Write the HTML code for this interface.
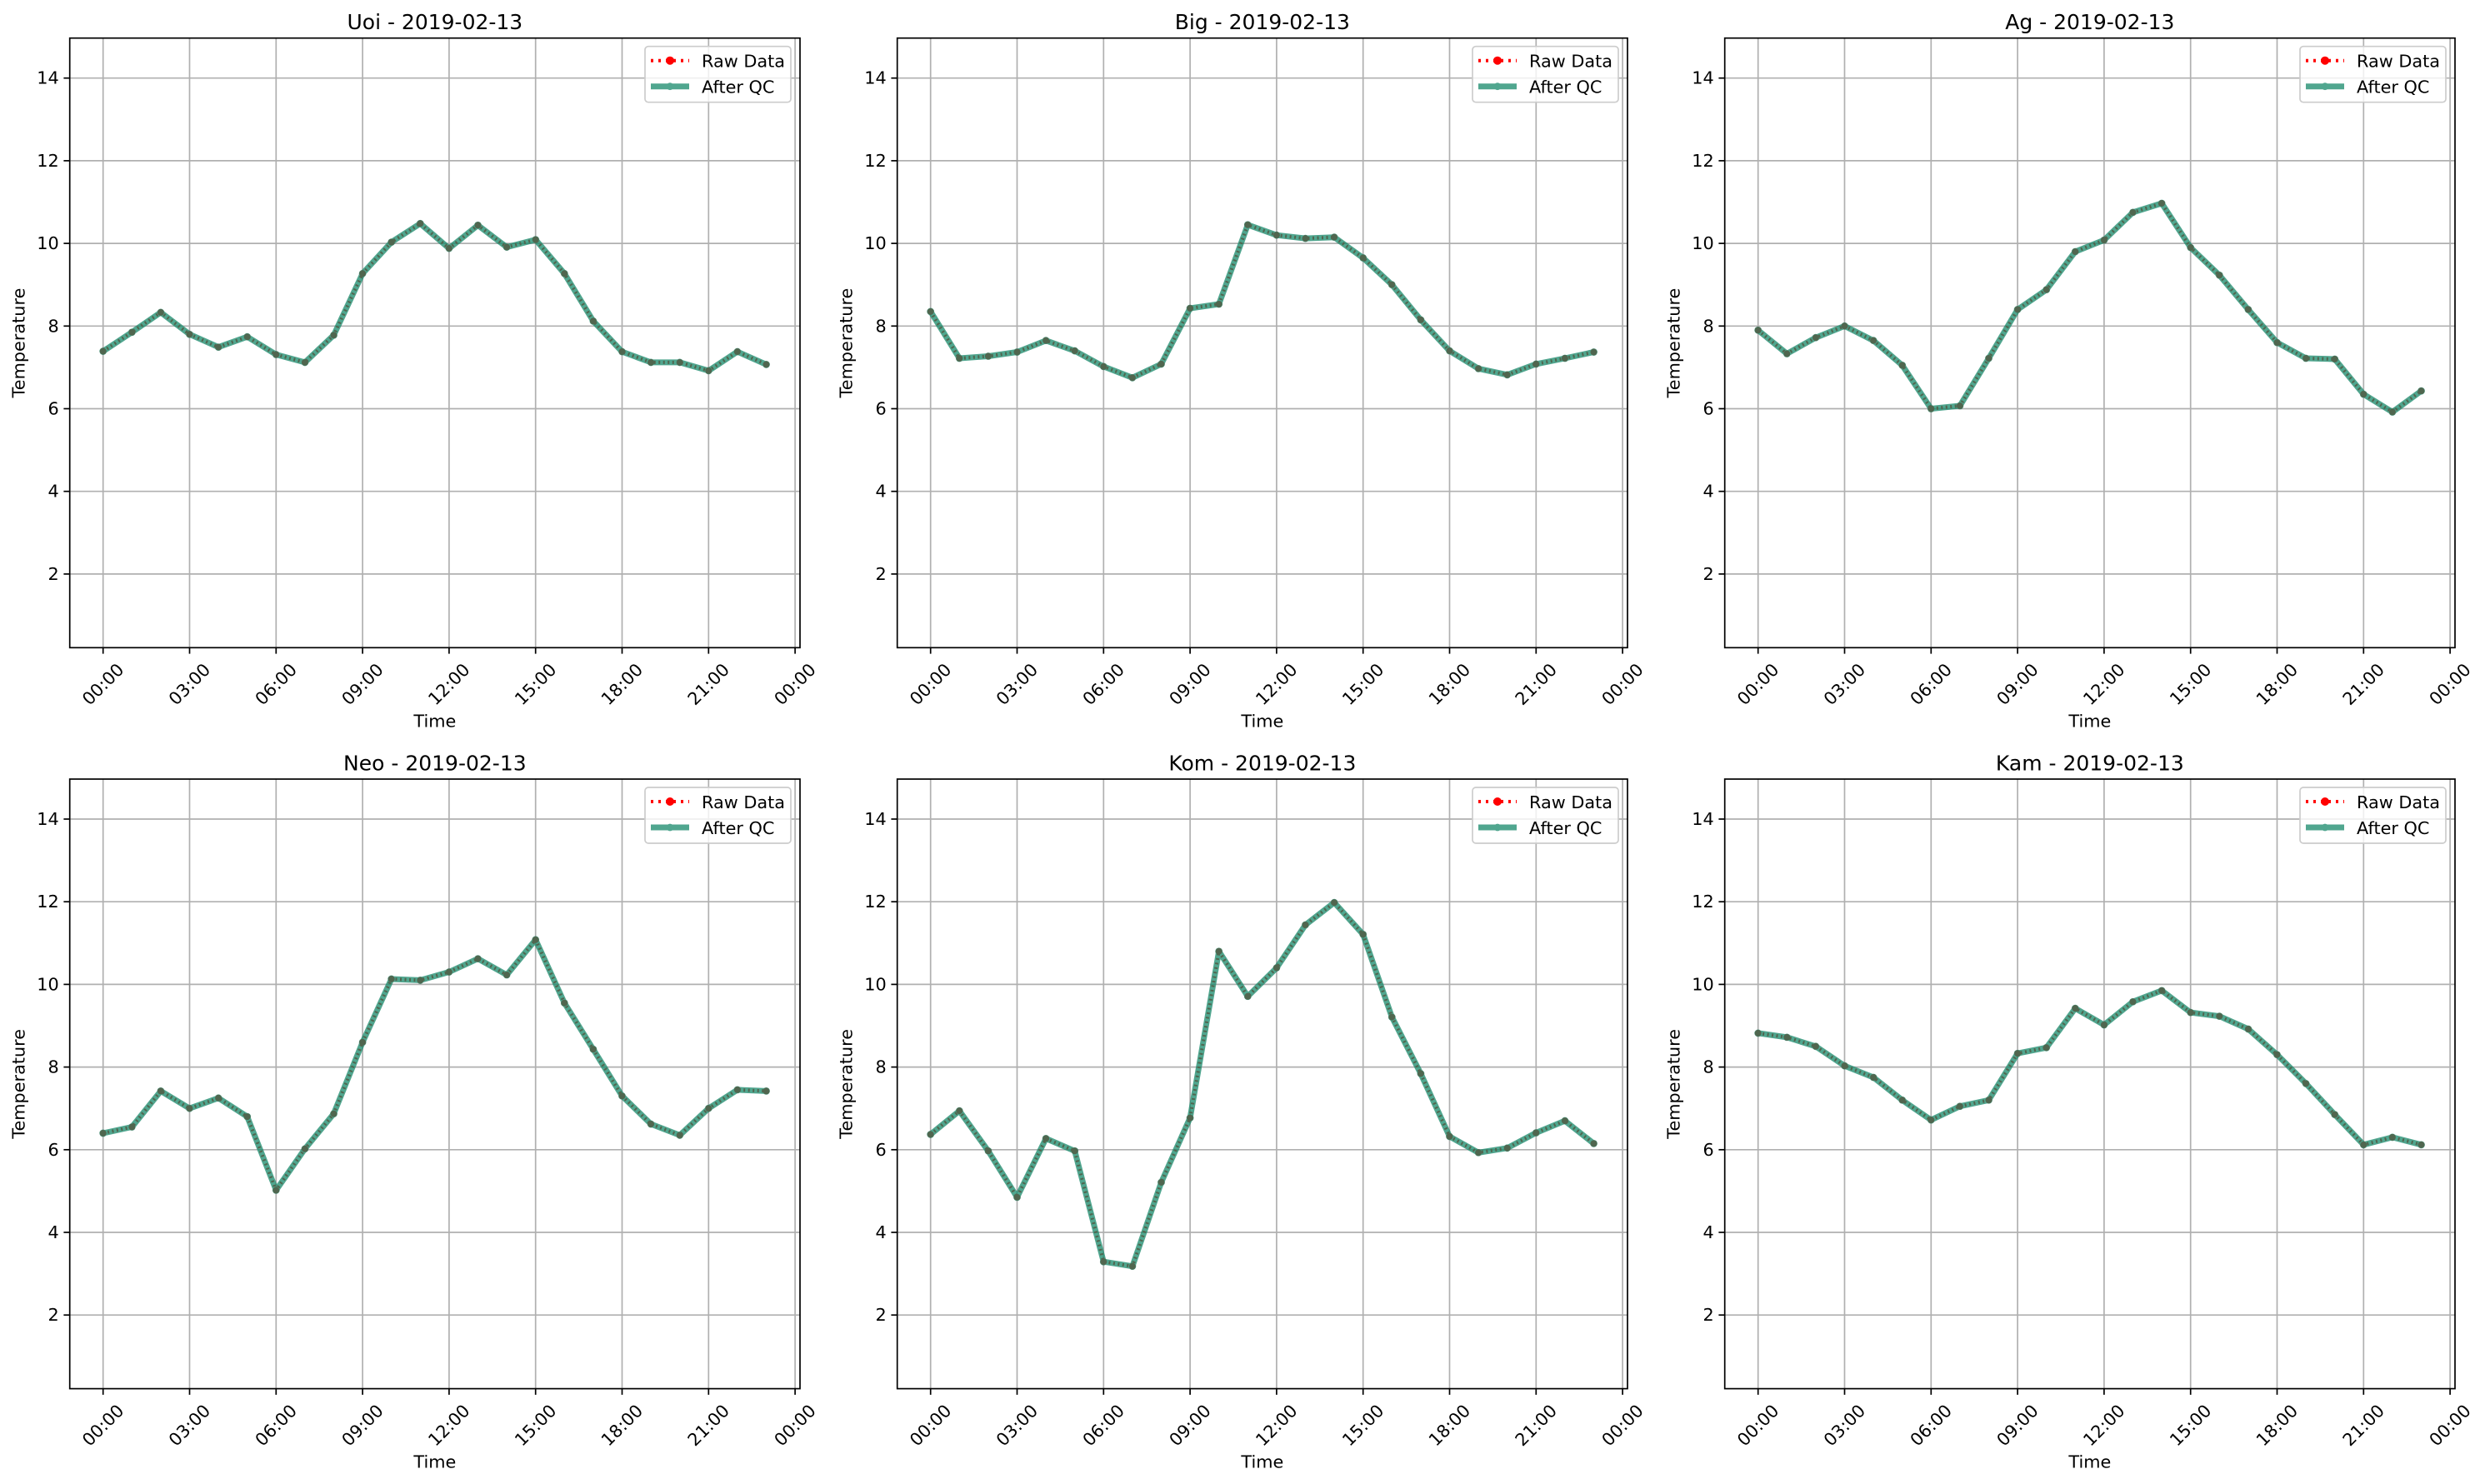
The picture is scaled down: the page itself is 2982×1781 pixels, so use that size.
<!DOCTYPE html>
<html><head><meta charset="utf-8"><style>
html,body{margin:0;padding:0;background:#fff;}
svg{display:block;font-family:"DejaVu Sans","Liberation Sans",sans-serif;}
</style></head><body>
<svg id="s" width="2982" height="1781" xmlns="http://www.w3.org/2000/svg"></svg>
<script>
const data=[
["Uoi",[7.39,7.85,8.33,7.80,7.49,7.74,7.31,7.12,7.78,9.27,10.03,10.48,9.88,10.44,9.91,10.09,9.27,8.12,7.38,7.12,7.12,6.92,7.38,7.07]],
["Big",[8.35,7.22,7.27,7.37,7.65,7.4,7.02,6.75,7.08,8.43,8.53,10.45,10.2,10.12,10.15,9.65,9.0,8.15,7.4,6.97,6.82,7.08,7.22,7.37]],
["Ag",[7.9,7.33,7.72,8.0,7.65,7.05,6.0,6.07,7.22,8.4,8.88,9.8,10.08,10.75,10.97,9.9,9.23,8.4,7.6,7.22,7.2,6.35,5.92,6.43]],
["Neo",[6.4,6.55,7.42,7.0,7.25,6.8,5.02,6.02,6.87,8.6,10.13,10.1,10.3,10.62,10.23,11.08,9.55,8.43,7.3,6.62,6.35,7.0,7.45,7.42]],
["Kom",[6.37,6.94,5.97,4.85,6.27,5.97,3.29,3.18,5.21,6.77,10.80,9.71,10.40,11.44,11.98,11.21,9.21,7.84,6.32,5.93,6.04,6.41,6.70,6.15]],
["Kam",[8.82,8.72,8.5,8.03,7.75,7.2,6.72,7.05,7.2,8.33,8.47,9.42,9.02,9.58,9.85,9.32,9.23,8.92,8.3,7.6,6.85,6.12,6.3,6.12]]
];
const W=876.3,H=731.6,G="#16896a";
let o='';
data.forEach((d,i)=>{
 const L=83.7+(i%3)*993, T=i<3?45.7:935;
 const X=h=>L+40+h*34.6, Y=v=>T+48+(14-v)*49.6;
 for(let k=0;k<=8;k++){const x=X(k*3);
  o+=`<line x1="${x}" y1="${T}" x2="${x}" y2="${T+H}" stroke="#b0b0b0" stroke-width="1.7"/>`;
  o+=`<line x1="${x}" y1="${T+H}" x2="${x}" y2="${T+H+7.3}" stroke="#000" stroke-width="1.7"/>`;
  const hh=String((k*3)%24).padStart(2,'0')+':00';
  const cx=x, cy=T+H+44;
  o+=`<text x="${cx}" y="${cy}" font-size="20.8" text-anchor="middle" dominant-baseline="central" transform="rotate(-45 ${cx} ${cy})">${hh}</text>`;
 }
 for(let v=2;v<=14;v+=2){const y=Y(v);
  o+=`<line x1="${L}" y1="${y}" x2="${L+W}" y2="${y}" stroke="#b0b0b0" stroke-width="1.7"/>`;
  o+=`<line x1="${L-7.3}" y1="${y}" x2="${L}" y2="${y}" stroke="#000" stroke-width="1.7"/>`;
  o+=`<text x="${L-13}" y="${y}" font-size="20.8" text-anchor="end" dominant-baseline="central">${v}</text>`;
 }
 const pts=d[1].map((v,h)=>X(h).toFixed(1)+','+Y(v).toFixed(1)).join(' ');
 o+=`<polyline points="${pts}" fill="none" stroke="#ff0000" stroke-width="4" stroke-dasharray="2,3.5"/>`;
 d[1].forEach((v,h)=>{o+=`<circle cx="${X(h)}" cy="${Y(v)}" r="4" fill="#ff0000"/>`;});
 o+=`<g opacity="0.75"><polyline points="${pts}" fill="none" stroke="${G}" stroke-width="7" stroke-linejoin="round"/>`;
 d[1].forEach((v,h)=>{o+=`<circle cx="${X(h)}" cy="${Y(v)}" r="4.4" fill="${G}"/>`;});
 o+=`</g>`;
 o+=`<rect x="${L}" y="${T}" width="${W}" height="${H}" fill="none" stroke="#000" stroke-width="1.7"/>`;
 o+=`<text x="${L+W/2}" y="${T-19}" font-size="25" text-anchor="middle" dominant-baseline="central">${d[0]} - 2019-02-13</text>`;
 o+=`<text x="${L+W/2}" y="${T+H+88}" font-size="20.8" text-anchor="middle" dominant-baseline="central">Time</text>`;
 const yl=L-61, ym=T+H/2;
 o+=`<text x="${yl}" y="${ym}" font-size="20.8" text-anchor="middle" dominant-baseline="central" transform="rotate(-90 ${yl} ${ym})">Temperature</text>`;
 const lx=L+W-186, ly=T+10;
 o+=`<rect x="${lx}" y="${ly}" width="175" height="67" rx="4" fill="#fff" fill-opacity="0.8" stroke="#cccccc" stroke-width="1.7"/>`;
 o+=`<line x1="${lx+7}" y1="${ly+17}" x2="${lx+53}" y2="${ly+17}" stroke="#ff0000" stroke-width="4" stroke-dasharray="3,6"/><circle cx="${lx+30}" cy="${ly+17}" r="5" fill="#ff0000"/>`;
 o+=`<text x="${lx+68}" y="${ly+18}" font-size="20.8" dominant-baseline="central">Raw Data</text>`;
 o+=`<g opacity="0.75"><line x1="${lx+7}" y1="${ly+48}" x2="${lx+53}" y2="${ly+48}" stroke="${G}" stroke-width="7"/><circle cx="${lx+30}" cy="${ly+48}" r="4.4" fill="${G}"/></g>`;
 o+=`<text x="${lx+68}" y="${ly+49}" font-size="20.8" dominant-baseline="central">After QC</text>`;
});
document.getElementById('s').innerHTML=o;
</script>
</body></html>
